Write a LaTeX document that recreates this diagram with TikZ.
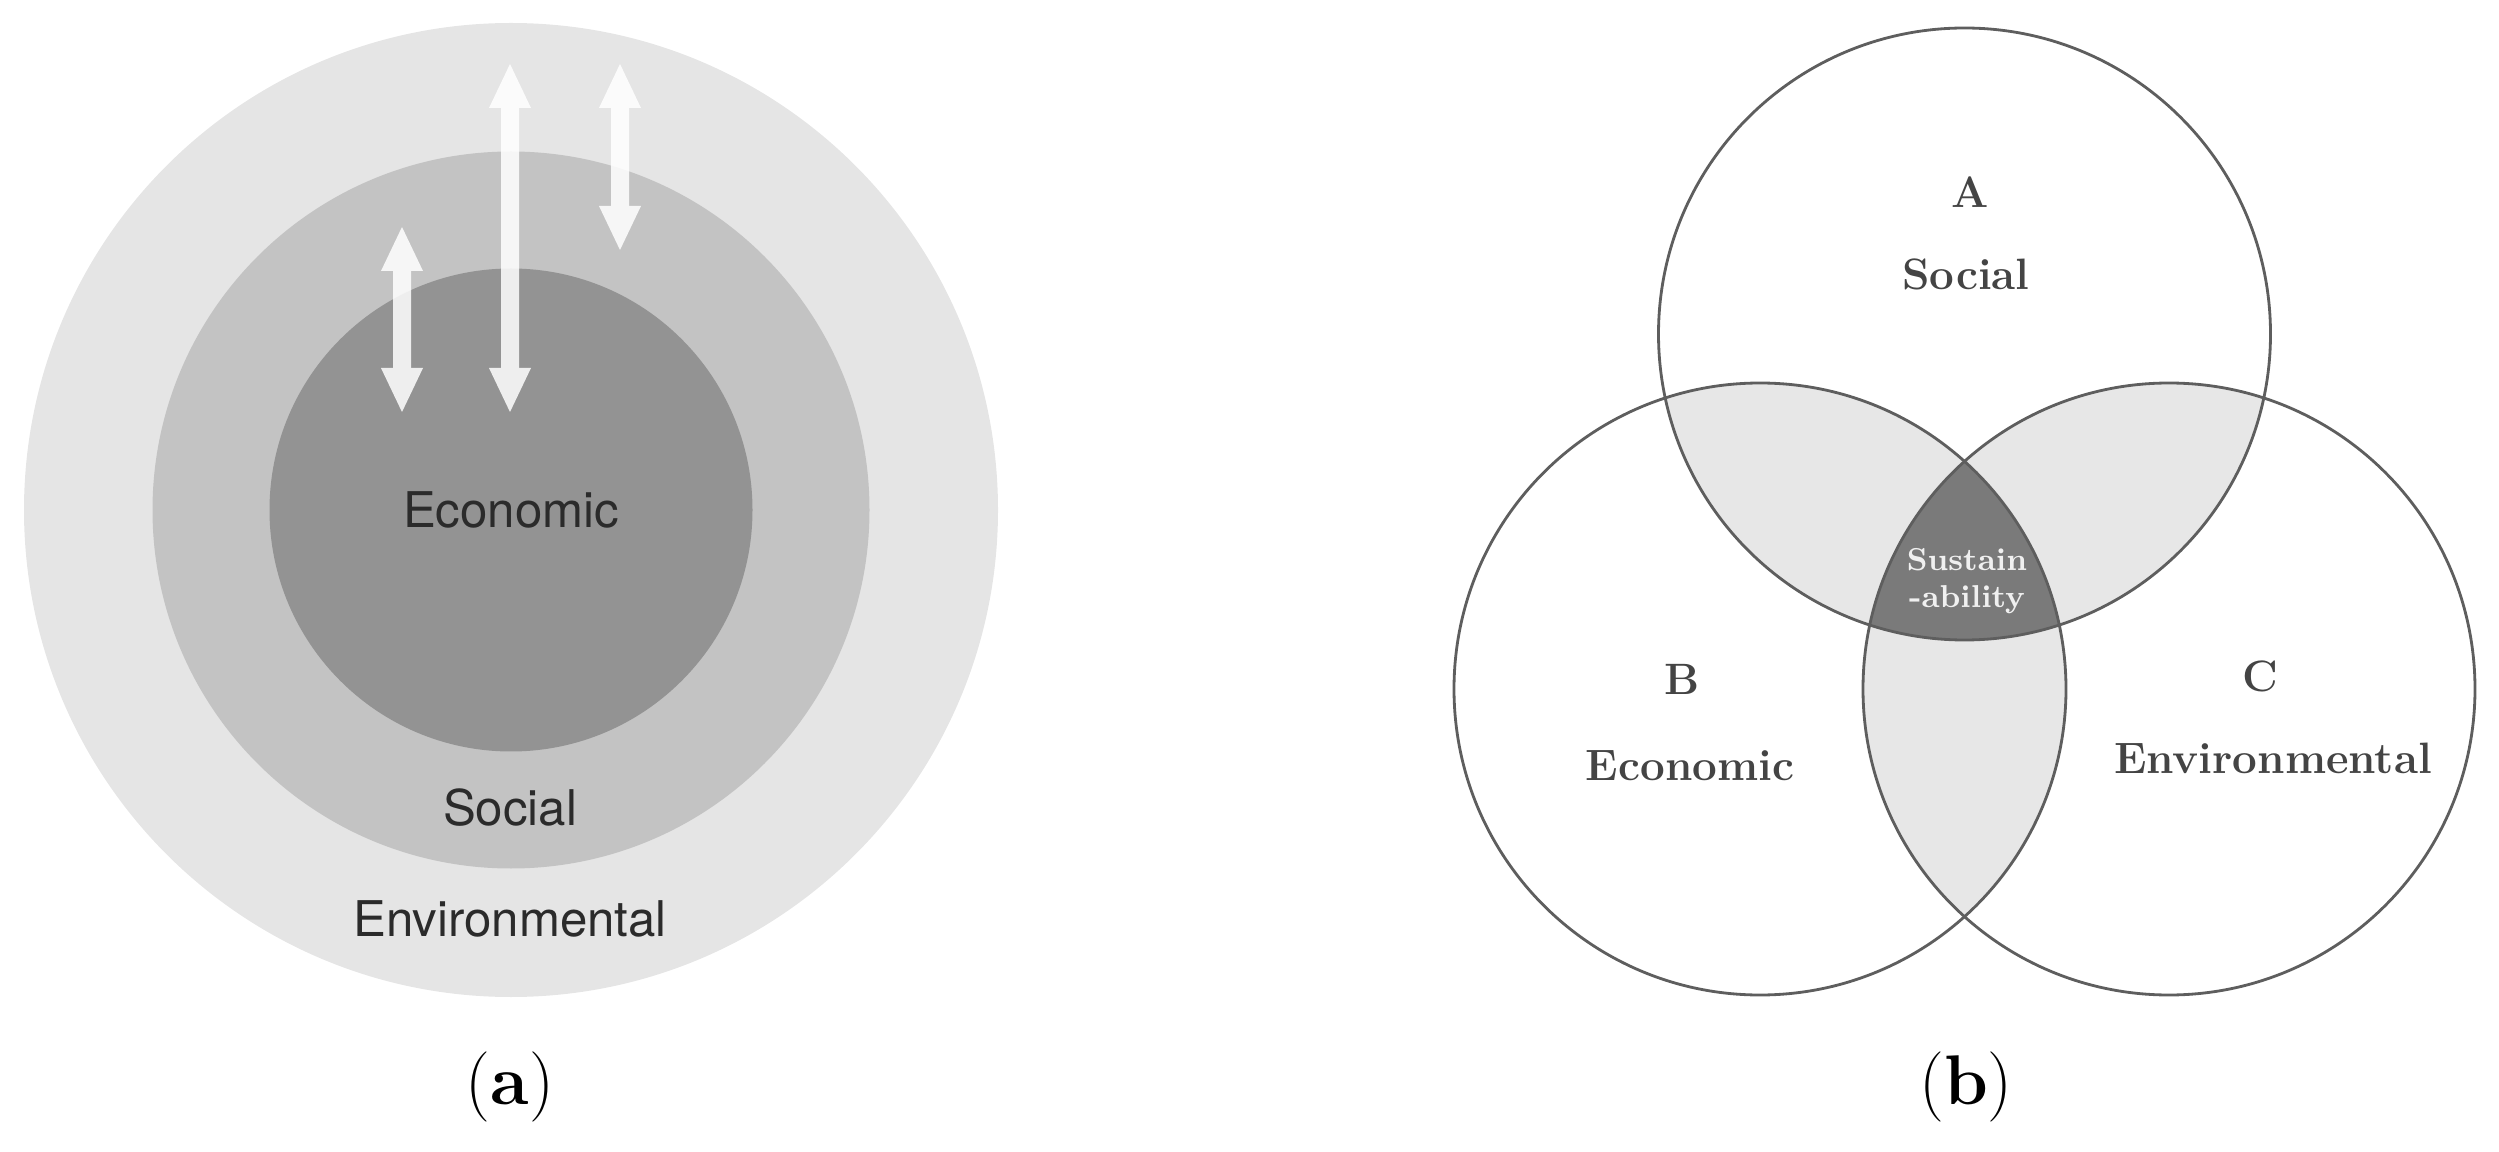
\documentclass[tikz,border=0pt]{standalone}
\usepackage{fontspec}
\usepackage{xcolor}
\usetikzlibrary{arrows.meta}
\newfontfamily\herosfont{TeX Gyre Heros}

\definecolor{envgray}{HTML}{E5E5E5}
\definecolor{socgray}{HTML}{C3C3C3}
\definecolor{ecogray}{HTML}{939393}
\definecolor{ringtext}{HTML}{2B2B2B}
\definecolor{lensgray}{HTML}{E7E7E7}
\definecolor{coregray}{HTML}{7A7A7A}
\definecolor{rimgray}{HTML}{5E5E5E}
\definecolor{venntext}{HTML}{444444}

\tikzset{
	ringlabel/.style={font=\herosfont\fontsize{14}{17}\selectfont, text=ringtext, inner sep=0pt},
	vennlabel/.style={font=\bfseries\fontsize{12.5}{15}\selectfont, text=venntext, inner sep=0pt},
	flowarrow/.style={draw=white, line width=0.18cm,
			{Triangle[length=0.44cm,width=0.42cm,line width=0pt]}-{Triangle[length=0.44cm,width=0.42cm,line width=0pt]}},
	vennrim/.style={draw=rimgray, line width=0.8pt},
	panellabel/.style={font=\fontsize{20}{24}\selectfont, inner sep=0pt}
}

\begin{document}
\begin{tikzpicture}
		\useasboundingbox (0,0) rectangle (24.99,11.51);

		% (a) nested rings
		\coordinate (ringc) at (5.11,6.41);
		\foreach \r/\c in {4.87/envgray, 3.585/socgray, 2.415/ecogray} {
				\fill[\c] (ringc) circle (\r);
			}

		% double arrows between the rings
		\foreach \i/\x/\yt/\yb in {1/4.02/9.24/7.39, 2/5.10/10.87/7.39, 3/6.20/10.87/9.01} {
				\coordinate (arrtop\i) at (\x,\yt);
				\coordinate (arrbot\i) at (\x,\yb);
				\begin{scope}[transparency group, opacity=0.85]
					\draw[flowarrow] (arrtop\i) -- (arrbot\i);
				\end{scope}
			}

		\node[ringlabel] (ecoring) at (ringc) {Economic};
		\node[ringlabel] (socring) at (5.10,3.43) {Social};
		\node[ringlabel] (envring) at (5.10,2.32) {Environmental};
		\node[panellabel] (capa) at (5.10,0.64) {(\textbf{a})};

		% (b) three overlapping circles
		\def\vr{3.06}
		\coordinate (socA) at (19.645,8.17);
		\coordinate (ecoB) at (17.60,4.62);
		\coordinate (envC) at (21.69,4.62);

		% pairwise overlaps
		\begin{scope}
			\clip (socA) circle (\vr);
			\fill[lensgray] (ecoB) circle (\vr);
			\fill[lensgray] (envC) circle (\vr);
		\end{scope}
		\begin{scope}
			\clip (ecoB) circle (\vr);
			\fill[lensgray] (envC) circle (\vr);
		\end{scope}

		% triple overlap
		\begin{scope}
			\clip (socA) circle (\vr);
			\clip (ecoB) circle (\vr);
			\fill[coregray] (envC) circle (\vr);
		\end{scope}

		\foreach \c in {socA, ecoB, envC} {
				\draw[vennrim] (\c) circle (\vr);
			}

		\node[vennlabel] (letA) at (19.70,9.59) {A};
		\node[vennlabel] (txtA) at (19.66,8.77) {Social};
		\node[vennlabel] (letB) at (16.82,4.72) {B};
		\node[vennlabel] (txtB) at (16.90,3.85) {Economic};
		\node[vennlabel] (letC) at (22.60,4.75) {C};
		\node[vennlabel] (txtC) at (22.73,3.93) {Environmental};
		\node[font=\bfseries\fontsize{9}{10.5}\selectfont, text=white!94!black, align=center, inner sep=0pt]
		(core) at (19.67,5.70) {Sustain\\-ability};
		\node[panellabel] (capb) at (19.66,0.64) {(\textbf{b})};
	\end{tikzpicture}
\end{document}
